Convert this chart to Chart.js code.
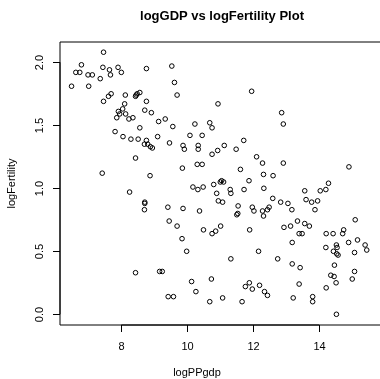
<!DOCTYPE html>
<html>
<head>
<meta charset="utf-8">
<script src="https://cdn.jsdelivr.net/npm/chart.js@4/dist/chart.umd.min.js"></script>
<style>
  body { margin: 0; background: #fff; }
  #wrap { width: 380px; height: 379px; }
</style>
</head>
<body>
<div id="wrap"><canvas id="chart" width="380" height="379"></canvas></div>
<script>
// data
var logPPgdp = [
    7.46, 6.79, 6.62, 6.74, 6.99, 7.12, 7.44, 7.64, 7.90, 8.00,
    7.67, 7.36, 6.49, 7.01, 8.76, 9.53, 9.61, 9.69, 11.95, 10.93,
    12.86, 12.91, 7.69, 7.61, 8.12, 7.46, 8.43, 8.48, 8.56, 8.45,
    8.76, 8.10, 8.04, 7.91, 7.95, 7.86, 8.13, 8.23, 8.35, 8.71,
    8.91, 9.13, 9.33, 10.23, 10.68, 10.75, 8.56, 9.56, 7.81, 8.05,
    8.29, 8.51, 8.76, 8.70, 8.80, 8.88, 8.94, 9.10, 9.46, 10.08,
    10.45, 10.33, 10.33, 9.87, 9.91, 11.12, 10.92, 10.75, 11.48, 11.71,
    12.10, 12.28, 12.91, 14.90, 8.43, 7.42, 8.87, 9.85, 10.30, 10.45,
    11.61, 11.87, 12.31, 12.60, 12.32, 11.72, 11.00, 11.04, 11.10,
    10.80, 10.89, 10.48, 10.17, 10.32, 11.30, 11.32, 10.94, 11.07, 10.37,
    9.87, 9.41, 8.25, 8.71, 8.71, 8.70, 9.45, 9.69, 9.84, 10.49,
    10.75, 10.86, 11.01, 11.54, 11.53, 11.50, 11.89, 11.97, 12.02, 12.28,
    12.31, 12.43, 12.48, 12.59, 12.83, 13.05, 13.17, 12.93, 13.13, 13.34,
    13.56, 13.70, 13.39, 13.48, 13.18, 13.56, 13.60, 13.77, 13.95, 13.87,
    14.03, 14.20, 14.28, 14.21, 14.42, 14.71, 14.74, 15.09, 14.89, 15.16,
    15.39, 15.44, 14.20, 14.52, 14.54, 14.43, 14.53, 14.57, 15.07, 9.98,
    12.16, 11.32, 12.74, 13.18, 13.42, 14.46, 14.35, 14.45, 15.07, 15.00,
    14.51, 14.21, 8.43, 9.16, 9.24, 10.13, 10.73, 10.26, 9.42, 9.58,
    10.68, 11.07, 11.76, 11.88, 12.19, 11.97, 12.34, 12.43, 11.66, 13.21,
    13.39, 13.80, 13.80, 14.52
];
var logFertility = [
    2.08, 1.98, 1.92, 1.92, 1.90, 1.90, 1.96, 1.94, 1.96, 1.92,
    1.90, 1.87, 1.81, 1.81, 1.95, 1.97, 1.84, 1.74, 1.77, 1.67,
    1.60, 1.51, 1.75, 1.73, 1.74, 1.69, 1.73, 1.75, 1.76, 1.74,
    1.69, 1.67, 1.63, 1.61, 1.59, 1.56, 1.59, 1.55, 1.56, 1.62,
    1.60, 1.53, 1.55, 1.51, 1.52, 1.48, 1.48, 1.49, 1.45, 1.41,
    1.39, 1.39, 1.38, 1.35, 1.35, 1.33, 1.32, 1.41, 1.36, 1.42,
    1.42, 1.34, 1.31, 1.34, 1.31, 1.34, 1.30, 1.27, 1.31, 1.38,
    1.25, 1.20, 1.20, 1.17, 1.24, 1.12, 1.10, 1.16, 1.19, 1.19,
    1.15, 1.06, 1.11, 1.10, 1.00, 0.99, 1.05, 1.06, 1.05,
    1.03, 0.96, 1.01, 1.01, 0.99, 0.99, 0.96, 0.90, 0.89, 0.82,
    0.84, 0.85, 0.97, 0.89, 0.88, 0.83, 0.74, 0.70, 0.60, 0.67,
    0.64, 0.66, 0.70, 0.86, 0.80, 0.79, 0.67, 0.85, 0.82, 0.82,
    0.78, 0.83, 0.85, 0.92, 0.89, 0.88, 0.83, 0.69, 0.70, 0.74,
    0.72, 0.70, 0.64, 0.64, 0.57, 0.98, 0.91, 0.89, 0.90, 0.83,
    0.98, 0.99, 1.04, 0.64, 0.64, 0.64, 0.67, 0.75, 0.57, 0.59,
    0.55, 0.51, 0.53, 0.55, 0.53, 0.50, 0.48, 0.47, 0.49, 0.50,
    0.50, 0.44, 0.44, 0.40, 0.37, 0.39, 0.31, 0.30, 0.34, 0.28,
    0.25, 0.21, 0.33, 0.34, 0.34, 0.26, 0.28, 0.18, 0.14, 0.14,
    0.10, 0.13, 0.22, 0.25, 0.23, 0.20, 0.18, 0.15, 0.10, 0.13,
    0.24, 0.14, 0.10, 0.00
];
var xTicks = [8, 10, 12, 14];
var yTicks = [0, 0.5, 1, 1.5, 2];
var yTickLabels = ['0.0', '0.5', '1.0', '1.5', '2.0'];

var points = logPPgdp.map(function (x, i) {
    return { x: x, y: logFertility[i] };
});

var font = '"Liberation Sans", Arial, Helvetica, sans-serif';

// R style box, axis lines, ticks and labels
var baseAxes = {
    id: 'baseAxes',
    afterDraw: function (chart) {
        var ctx = chart.ctx;
        var a = chart.chartArea;
        var sx = chart.scales.x, sy = chart.scales.y;
        var left = Math.round(a.left), top = Math.round(a.top), bottom = Math.round(a.bottom);
        ctx.save();
        ctx.strokeStyle = '#000';
        ctx.lineWidth = 1;
        // box (soft, between pixels like the R png)
        ctx.beginPath();
        ctx.moveTo(380, top);
        ctx.lineTo(left, top);
        ctx.lineTo(left, bottom);
        ctx.lineTo(380, bottom);
        ctx.stroke();

        var x0 = sx.getPixelForValue(xTicks[0]);
        var x1 = sx.getPixelForValue(xTicks[xTicks.length - 1]);
        var y0 = sy.getPixelForValue(yTicks[0]);
        var y1 = sy.getPixelForValue(yTicks[yTicks.length - 1]);
        // axis lines over the box
        ctx.beginPath();
        ctx.moveTo(x0, bottom);
        ctx.lineTo(x1, bottom);
        ctx.moveTo(left, y0);
        ctx.lineTo(left, y1);
        ctx.stroke();

        ctx.fillStyle = '#000';
        ctx.font = '11px ' + font;
        ctx.textAlign = 'center';
        ctx.textBaseline = 'middle';
        // x ticks
        xTicks.forEach(function (v) {
            var px = Math.round(sx.getPixelForValue(v)) + 0.5;
            ctx.beginPath();
            ctx.moveTo(px, bottom);
            ctx.lineTo(px, bottom + 7);
            ctx.stroke();
            ctx.fillText(String(v), px, 347);
        });
        // y ticks, labels turned like R
        yTicks.forEach(function (v, i) {
            var py = Math.round(sy.getPixelForValue(v)) + 0.5;
            ctx.beginPath();
            ctx.moveTo(left, py);
            ctx.lineTo(left - 7, py);
            ctx.stroke();
            ctx.save();
            ctx.translate(40, py);
            ctx.rotate(-Math.PI / 2);
            ctx.fillText(yTickLabels[i], 0, 0);
            ctx.restore();
        });
        // axis titles
        ctx.fillText('logPPgdp', 197, 373);
        ctx.save();
        ctx.translate(12, (a.top + a.bottom) / 2);
        ctx.rotate(-Math.PI / 2);
        ctx.fillText('logFertility', 0, 0);
        ctx.restore();
        // main title
        ctx.font = 'bold 13px ' + font;
        ctx.fillText('logGDP vs logFertility Plot', 222, 16);
        ctx.restore();
    }
};

var ctx = document.getElementById('chart');
var myChart = new Chart(ctx, {
    type: 'scatter',
    data: {
        datasets: [{
            label: 'logFertility',
            data: points,
            pointStyle: 'circle',
            pointRadius: 2.3,
            pointBorderWidth: 1,
            pointBorderColor: '#000',
            pointBackgroundColor: 'rgba(0,0,0,0)'
        }]
    },
    options: {
        responsive: false,
        animation: false,
        layout: { padding: { top: 42, left: 0, right: 0, bottom: 0 } },
        scales: {
            x: {
                type: 'linear',
                min: 6.14,
                max: 15.69,
                grid: { display: false },
                border: { display: false },
                ticks: { display: false },
                afterFit: function (s) { s.height = 54; }
            },
            y: {
                type: 'linear',
                min: -0.085,
                max: 2.161,
                grid: { display: false },
                border: { display: false },
                ticks: { display: false },
                afterFit: function (s) { s.width = 60; }
            }
        },
        plugins: {
            legend: { display: false },
            title: { display: false },
            tooltip: { enabled: false }
        }
    },
    plugins: [baseAxes]
});
</script>
</body>
</html>
